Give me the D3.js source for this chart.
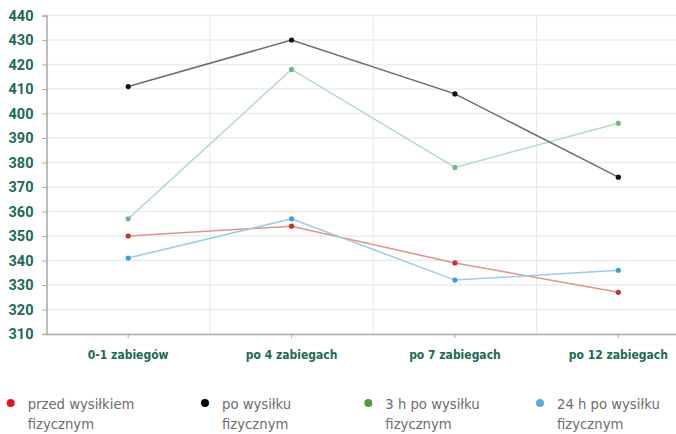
<!DOCTYPE html>
<html><head><meta charset="utf-8">
<script src="https://cdn.jsdelivr.net/npm/d3@7"></script>
<style>
html,body{margin:0;padding:0;background:#fff;}
svg{display:block;}
</style></head>
<body>
<svg id="c" width="676" height="434"></svg>
<script>
const categories = ["0-1 zabiegów", "po 4 zabiegach", "po 7 zabiegach", "po 12 zabiegach"];
const yTicks = [310,320,330,340,350,360,370,380,390,400,410,420,430,440];
const seriesNames = ["przed wysiłkiem fizycznym", "po wysiłku fizycznym", "3 h po wysiłku fizycznym", "24 h po wysiłku fizycznym"];
const przed = [350, 354, 339, 327];
const po = [411, 430, 408, 374];
const po3h = [357, 418, 378, 396];
const po24h = [341, 357, 332, 336];

const series = [
  {name: seriesNames[0], values: przed, line: "#e0928c", dot: "#c9302c", legend: "#e3161d", lines: ["przed wysiłkiem","fizycznym"]},
  {name: seriesNames[1], values: po, line: "#6b6b6b", dot: "#111", legend: "#000", lines: ["po wysiłku","fizycznym"]},
  {name: seriesNames[2], values: po3h, line: "#b4dcc0", dot: "#6cbb84", legend: "#4c9e3b", lines: ["3 h po wysiłku","fizycznym"]},
  {name: seriesNames[3], values: po24h, line: "#9ccbea", dot: "#3c9fd8", legend: "#5aaade", lines: ["24 h po wysiłku","fizycznym"]}
];
const order = [2,0,3,1];

const svg = d3.select("#c");
const x = d3.scaleBand().domain(categories).range([46.5, 700]);
const y = d3.scaleLinear().domain([310, 440]).range([334, 15.5]);
const green = "#1b6a52";

// horizontal gridlines
svg.append("g").selectAll("line").data(yTicks.slice(1)).join("line")
  .attr("x1", 46.5).attr("x2", 676).attr("y1", d => y(d)).attr("y2", d => y(d))
  .attr("stroke", "#ececec").attr("stroke-width", 1.3);
// vertical gridlines
svg.append("g").selectAll("line").data(categories.slice(1)).join("line")
  .attr("x1", d => x(d)).attr("x2", d => x(d)).attr("y1", 15.5).attr("y2", 334)
  .attr("stroke", "#e6e6e6").attr("stroke-width", 1);

// y axis
const ya = svg.append("g").attr("transform", "translate(46.5,0)")
  .call(d3.axisLeft(y).tickValues(yTicks).tickSize(4).tickPadding(10).tickFormat(d3.format("d")));
ya.select(".domain").attr("stroke", "#a8a8a8").attr("stroke-width", 1.5);
ya.selectAll(".tick line").attr("stroke", "#a8a8a8");
ya.selectAll("text").attr("fill", green).attr("font-family", "Roboto, sans-serif")
  .attr("font-weight", "bold").attr("font-size", 14.5).attr("dx", 1);

// x axis
const xa = svg.append("g").attr("transform", "translate(0,334)")
  .call(d3.axisBottom(x).tickSize(4).tickSizeOuter(0).tickPadding(12));
xa.select(".domain").attr("stroke", "#a8a8a8").attr("stroke-width", 1.5);
xa.selectAll(".tick line").attr("stroke", "#a8a8a8");
xa.selectAll("text").attr("fill", green).attr("font-family", "'Liberation Sans Narrow', 'DejaVu Sans Condensed', sans-serif")
  .attr("font-weight", "bold").attr("font-size", 12);

const cx = d => x(d) + x.bandwidth() / 2;
const line = d3.line().x((d, i) => cx(categories[i])).y(d => y(d));

order.forEach(k => {
  const s = series[k];
  svg.append("path").datum(s.values).attr("d", line)
    .attr("fill", "none").attr("stroke", s.line).attr("stroke-width", 1.5);
});
order.forEach(k => {
  const s = series[k];
  svg.append("g").selectAll("circle").data(s.values).join("circle")
    .attr("cx", (d, i) => cx(categories[i])).attr("cy", d => y(d)).attr("r", 2.6)
    .attr("fill", s.dot);
});

// legend
const legX = [10.7, 205, 368.3, 540];
const lg = svg.append("g");
series.forEach((s, i) => {
  const g = lg.append("g").attr("transform", `translate(${legX[i]},0)`);
  g.append("circle").attr("cx", 0).attr("cy", 403).attr("r", 4).attr("fill", s.legend);
  s.lines.forEach((t, j) => {
    g.append("text").attr("x", 17).attr("y", 409 + j * 19.5).text(t)
      .attr("fill", "#6d6d6d").attr("font-family", "'Liberation Sans Narrow', 'DejaVu Sans Condensed', sans-serif")
      .attr("font-size", 14.7);
  });
});
</script>
</body></html>
